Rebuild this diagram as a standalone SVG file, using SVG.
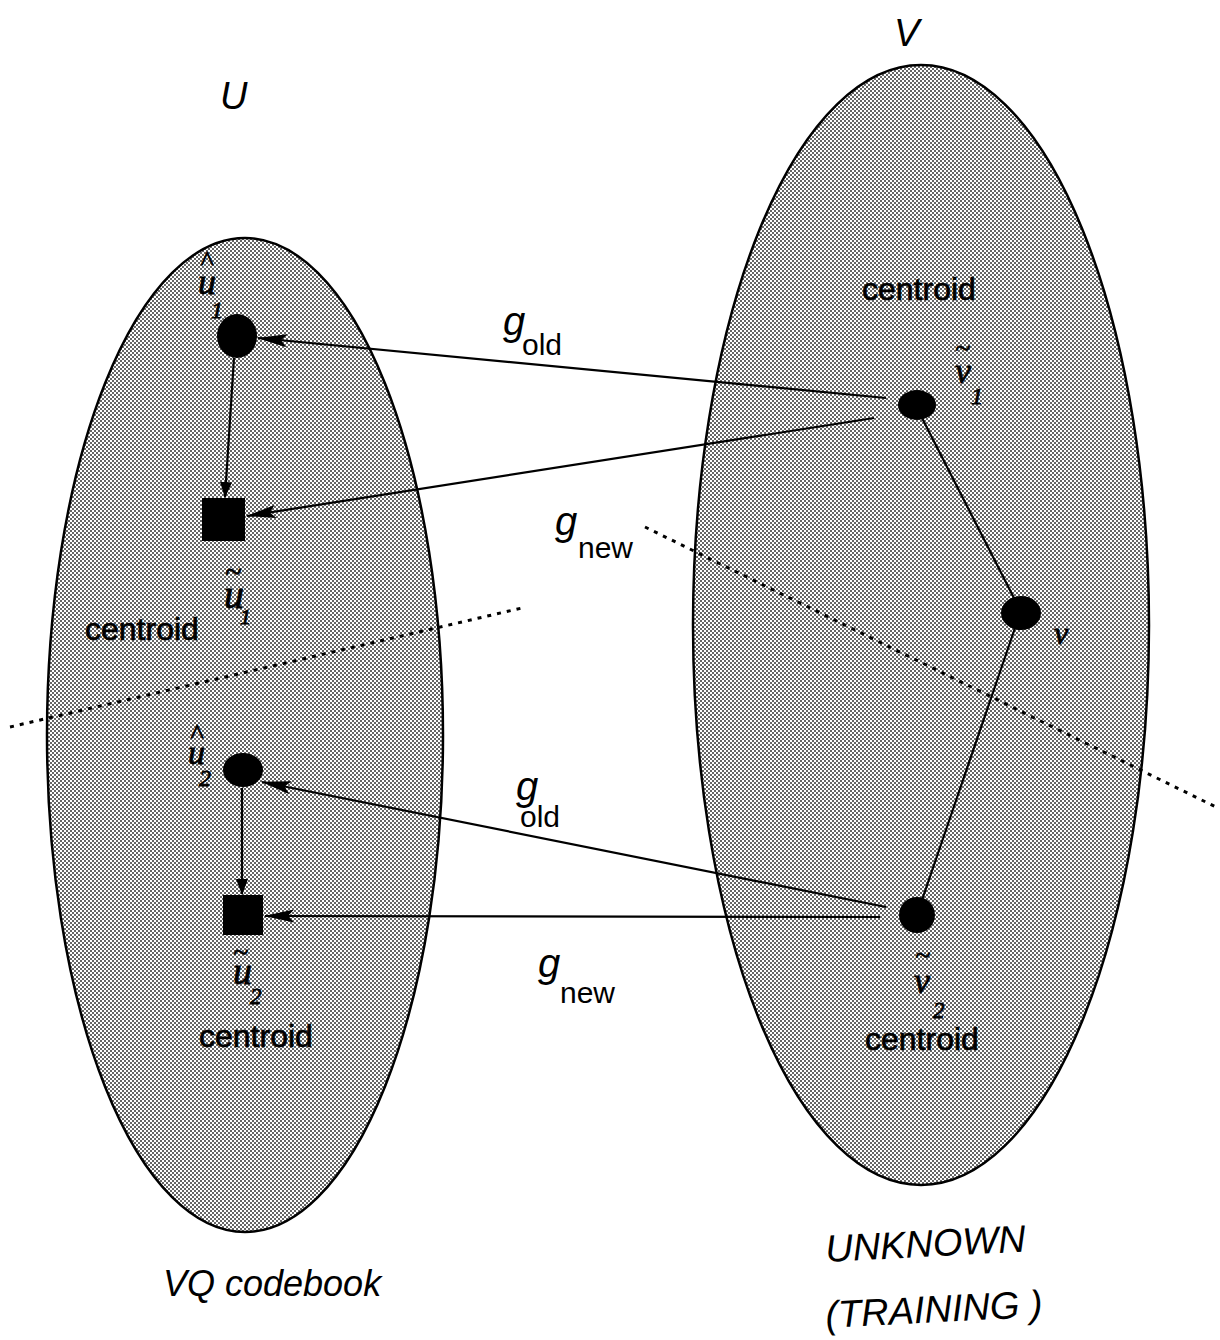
<svg xmlns="http://www.w3.org/2000/svg" width="1220" height="1340" viewBox="0 0 1220 1340">
<defs>
<pattern id="dots" width="4" height="4" patternUnits="userSpaceOnUse">
<rect width="4" height="4" fill="#ffffff"/>
<rect x="0" y="0" width="2" height="2" fill="#666"/>
<rect x="2" y="2" width="2" height="2" fill="#666"/>
</pattern>
<marker id="ah" markerWidth="30" markerHeight="13" refX="29" refY="6.5" orient="auto" markerUnits="userSpaceOnUse">
<path d="M0,0 L30,6.5 L0,13 L6,6.5 Z" fill="#000"/>
</marker>
<marker id="ahs" markerWidth="16" markerHeight="12" refX="15" refY="6" orient="auto" markerUnits="userSpaceOnUse">
<path d="M0,0 L16,6 L0,12 Z" fill="#000"/>
</marker>
</defs>
<style>
.set{fill:url(#dots);stroke:#000;stroke-width:2.5}
.node{fill:#000}
.conn{stroke:#000;stroke-width:2.2;fill:none}
.dot{stroke:#000;stroke-width:3;stroke-dasharray:4 6;fill:none}
.lab{font-family:"Liberation Sans",Arial,sans-serif;fill:#000}
.it{font-style:italic}
.up{font-style:normal}
.hw{font-family:"Liberation Serif","Times New Roman",serif;font-style:italic;fill:#000;stroke:#000;stroke-width:0.8}
.cen{font-family:"Liberation Sans",Arial,sans-serif;font-size:32px;fill:#000;stroke:#000;stroke-width:0.7}
</style>
<rect width="1220" height="1340" fill="#fff"/>
<g id="set-U"><ellipse class="set" cx="245" cy="735" rx="198" ry="497"/></g>
<g id="set-V"><ellipse class="set" cx="921" cy="625" rx="228" ry="560"/></g>

<g id="connectors">
<line class="conn" x1="886" y1="398" x2="258" y2="338" marker-end="url(#ah)"/>
<line class="conn" x1="874" y1="418" x2="247" y2="516" marker-end="url(#ah)"/>
<line class="conn" x1="234" y1="358" x2="225" y2="497" marker-end="url(#ahs)"/>
<line class="conn" x1="242" y1="788" x2="242" y2="894" marker-end="url(#ahs)"/>
<line class="conn" x1="886" y1="907" x2="262" y2="782" marker-end="url(#ah)"/>
<line class="conn" x1="880" y1="917" x2="265" y2="916" marker-end="url(#ah)"/>
<line class="conn" x1="922" y1="418" x2="1014" y2="598"/>
<line class="conn" x1="1015" y1="628" x2="922" y2="900"/>
<line class="dot" x1="10" y1="727" x2="522" y2="608"/>
<line class="dot" x1="645" y1="527" x2="1218" y2="808"/>
</g>

<g id="u-hat-1"><ellipse class="node" cx="237" cy="336" rx="20" ry="22"/>
<text class="hw"><tspan x="200" y="270" font-size="28">^</tspan><tspan x="198" y="294" font-size="36">u</tspan><tspan x="211" y="318" font-size="24">1</tspan></text></g>
<g id="u-tilde-1"><rect class="node" x="202" y="498" width="43" height="43"/>
<text class="hw"><tspan x="225" y="582" font-size="30">~</tspan><tspan x="224" y="608" font-size="40">u</tspan><tspan x="240" y="624" font-size="22">1</tspan></text></g>
<g id="v-tilde-1"><ellipse class="node" cx="917" cy="405" rx="19" ry="15"/>
<text class="hw"><tspan x="955" y="357" font-size="28">~</tspan><tspan x="955" y="383" font-size="36">v</tspan><tspan x="971" y="404" font-size="24">1</tspan></text></g>
<g id="v"><ellipse class="node" cx="1021" cy="613" rx="20" ry="17"/>
<text class="hw" x="1054" y="644" font-size="32">v</text></g>
<g id="u-hat-2"><ellipse class="node" cx="243" cy="770" rx="20" ry="17"/>
<text class="hw"><tspan x="190" y="743" font-size="28">^</tspan><tspan x="188" y="764" font-size="34">u</tspan><tspan x="199" y="786" font-size="24">2</tspan></text></g>
<g id="u-tilde-2"><rect class="node" x="223" y="895" width="40" height="40"/>
<text class="hw"><tspan x="233" y="961" font-size="28">~</tspan><tspan x="233" y="984" font-size="38">u</tspan><tspan x="250" y="1004" font-size="23">2</tspan></text></g>
<g id="v-tilde-2"><ellipse class="node" cx="917" cy="915" rx="18" ry="18"/>
<text class="hw"><tspan x="915" y="964" font-size="28">~</tspan><tspan x="914" y="993" font-size="36">v</tspan><tspan x="933" y="1018" font-size="23">2</tspan></text></g>

<g id="labels">
<text class="lab it" x="220" y="109" font-size="38">U</text>
<text class="lab it" x="894" y="46" font-size="38">V</text>
<text class="cen" x="862" y="300">centroid</text>
<text class="cen" x="85" y="640">centroid</text>
<text class="cen" x="199" y="1047">centroid</text>
<text class="cen" x="865" y="1050">centroid</text>
<text class="lab it"><tspan x="503" y="335" font-size="40">g</tspan><tspan class="up" x="522" y="355" font-size="30">old</tspan></text>
<text class="lab it"><tspan x="555" y="535" font-size="40">g</tspan><tspan class="up" x="578" y="558" font-size="30">new</tspan></text>
<text class="lab it"><tspan x="516" y="800" font-size="40">g</tspan><tspan class="up" x="520" y="827" font-size="30">old</tspan></text>
<text class="lab it"><tspan x="538" y="977" font-size="40">g</tspan><tspan class="up" x="560" y="1003" font-size="30">new</tspan></text>
<text class="lab it" x="163" y="1296" font-size="36">VQ codebook</text>
<text class="lab it" x="826" y="1262" font-size="38" transform="rotate(-3 826 1262)">UNKNOWN</text>
<text class="lab it" x="826" y="1328" font-size="38" transform="rotate(-3 826 1328)">(TRAINING  )</text>
</g>
</svg>
